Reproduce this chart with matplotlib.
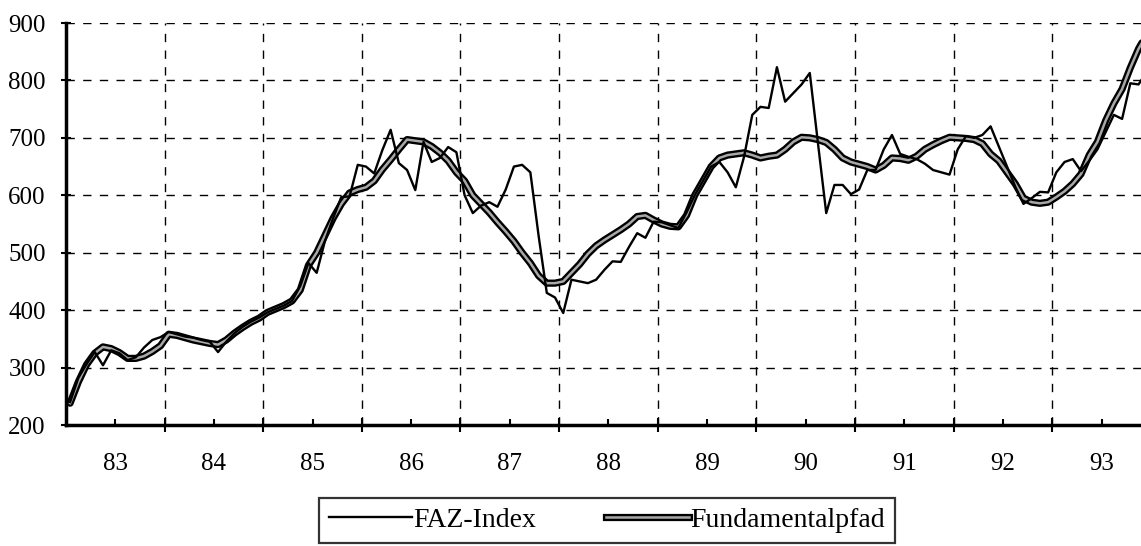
import matplotlib
matplotlib.use('Agg')
import matplotlib.pyplot as plt
from matplotlib.ticker import FixedLocator, NullFormatter

# monthly values, Jan 1983 .. Dec 1993
faz = [240, 282, 306, 327, 304, 330, 325, 313, 318, 335, 348, 353,
       362, 358, 354, 352, 348, 345, 327, 345, 360, 371, 380, 387,
       396, 402, 408, 416, 442, 482, 465, 520, 560, 597, 598, 653,
       650, 638, 679, 714, 656, 644, 609, 693, 658, 665, 684, 675,
       600, 569, 582, 588, 580, 610, 650, 653, 640, 530, 430, 422,
       395, 453, 450, 447, 453, 470, 485, 484, 510, 534, 526, 554,
       553, 548, 543, 570, 600, 625, 650, 658, 640, 614, 667, 740,
       754, 752, 823, 763, 778, 793, 813, 690, 569, 618, 618, 602,
       610, 644, 644, 680, 705, 672, 667, 663, 655, 644, 640, 636,
       680, 703, 700, 705, 720, 685, 650, 615, 585, 595, 606, 605,
       640, 658, 663, 642, 660, 680, 710, 740, 733, 795, 793, 815]

fund = [238, 275, 305, 325, 336, 333, 326, 316, 316, 320, 328, 338,
        358, 356, 352, 348, 345, 342, 340, 348, 360, 370, 379, 386,
        396, 402, 408, 416, 435, 478, 500, 530, 560, 585, 604, 610,
        614, 625, 645, 662, 680, 697, 695, 693, 685, 674, 660, 640,
        625, 600, 585, 570, 553, 537, 520, 500, 482, 460, 447, 447,
        450, 465, 480, 498, 512, 522, 531, 540, 550, 563, 565, 557,
        550, 546, 545, 565, 600, 625, 650, 665, 670, 672, 674, 670,
        665, 668, 670, 680, 693, 701, 700, 697, 692, 680, 665, 658,
        654, 650, 644, 652, 665, 664, 661, 668, 680, 688, 695, 701,
        700, 699, 697, 690, 672, 660, 640, 620, 595, 588, 586, 588,
        597, 607, 620, 637, 670, 693, 730, 760, 785, 822, 855, 880]

years = list(range(1983, 1994))
year_labels = ['83', '84', '85', '86', '87', '88', '89', '90', '91', '92', '93']
yticks = [200, 300, 400, 500, 600, 700, 800, 900]

t = [1983 + (m + 0.5) / 12 for m in range(len(faz))]

plt.rcParams['font.family'] = ['Liberation Serif', 'DejaVu Serif']

fig = plt.figure(figsize=(11.41, 5.46), dpi=100)
ax = fig.add_axes([66 / 1141, 121 / 546, 1 - 66 / 1141, 402 / 546])

ax.plot(t, fund, color='black', lw=5.2, solid_capstyle='round', zorder=3)
ax.plot(t, fund, color='#a8a8a8', lw=1.8, zorder=4)
ax.plot(t, faz, color='black', lw=1.7, zorder=5)

ax.set_xlim(1983, 1983 + 10.9)
ax.set_ylim(200, 900)
ax.set_yticks(yticks)

ax.xaxis.set_major_locator(FixedLocator(years[1:]))
ax.xaxis.set_major_formatter(NullFormatter())
ax.xaxis.set_minor_locator(FixedLocator([y + 0.5 for y in years]))
ax.set_xticklabels(year_labels, minor=True)

ax.tick_params(axis='y', direction='inout', length=7, width=1.5, pad=11, labelsize=18)
ax.tick_params(axis='x', which='major', direction='inout', length=10, width=1.5)
ax.tick_params(axis='x', which='minor', direction='in', length=4, width=1.5, pad=20, labelsize=18)

ax.grid(True, which='major', color='black', lw=1.0, linestyle=(0, (6, 6)))
for s in ['top', 'right']:
    ax.spines[s].set_visible(False)
ax.spines['left'].set_linewidth(2.5)
ax.spines['bottom'].set_linewidth(2.5)

h1, = ax.plot([], [], color='black', lw=1.7)
h2a, = ax.plot([], [], color='black', lw=5.2)
h2b, = ax.plot([], [], color='#a8a8a8', lw=1.8)
leg = fig.legend([h1, (h2a, h2b)], ['FAZ-Index', 'Fundamentalpfad'],
                 loc='upper center', bbox_to_anchor=(0.532, 0.088), ncol=2,
                 fontsize=20, frameon=True, fancybox=False, edgecolor='black',
                 handlelength=3.0, handletextpad=0.05, columnspacing=2.5,
                 borderpad=0.35, borderaxespad=0)
leg.get_frame().set_linewidth(1.6)

fig.savefig('out.png', dpi=100)
